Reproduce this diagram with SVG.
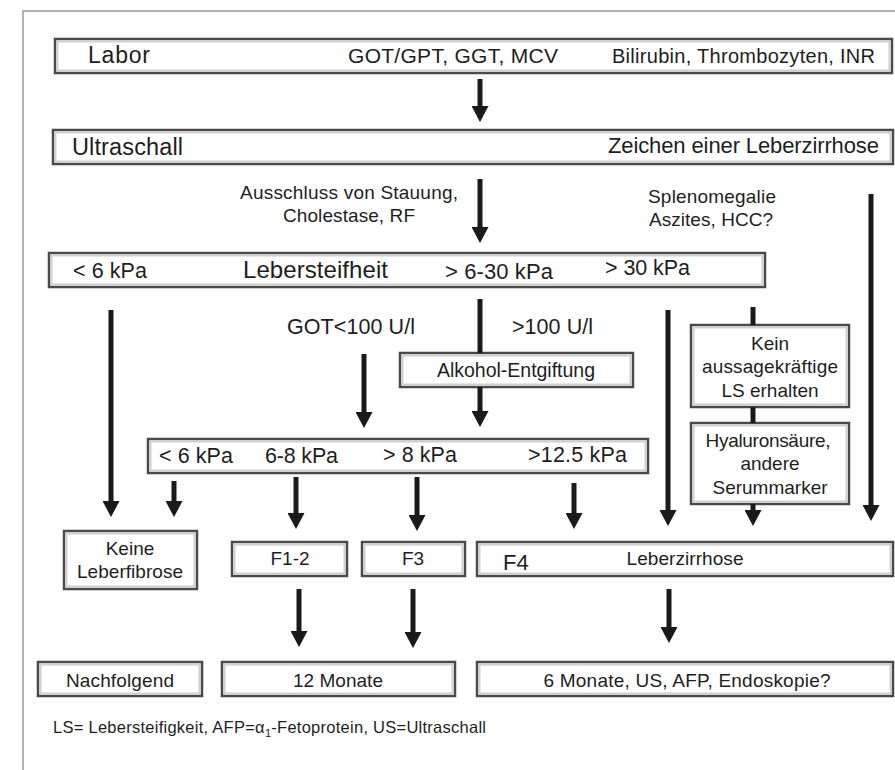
<svg xmlns="http://www.w3.org/2000/svg" width="895" height="770" viewBox="0 0 895 770">
<style>
.bx{fill:#fff;stroke:#4a4a4a;stroke-width:2.5}
.bi{fill:none;stroke:#cfcfcf;stroke-width:2}
text{font-family:"Liberation Sans",Arial,sans-serif;fill:#1e1e1e;font-size:19px}
.c{text-anchor:middle}
.ln{stroke:#1a1a1a;stroke-width:5;fill:none}
.ar{stroke:#1a1a1a;stroke-width:5;fill:none;marker-end:url(#ah)}
</style>
<defs>
<marker id="ah" markerUnits="userSpaceOnUse" markerWidth="17" markerHeight="17" refX="6" refY="8.5" orient="auto">
<path d="M0,0 L16,8.5 L0,17 z" fill="#1a1a1a"/>
</marker>
</defs>
<rect width="895" height="770" fill="#fff"/>
<path d="M23,770 V11 H895" fill="none" stroke="#9a9a9a" stroke-width="1.5"/>

<g id="labor">
<rect class="bx" x="55" y="39" width="837" height="34"/><rect class="bi" x="57.5" y="41.5" width="832" height="29"/>
<text x="88" y="63" style="font-size:23px" textLength="62">Labor</text>
<text x="348" y="63" style="font-size:21px" textLength="210">GOT/GPT, GGT, MCV</text>
<text x="612" y="63" style="font-size:20px" textLength="263">Bilirubin, Thrombozyten, INR</text>
</g>
<g id="ultraschall">
<rect class="bx" x="53" y="130" width="840" height="34"/><rect class="bi" x="55.5" y="132.5" width="835" height="29"/>
<text x="72" y="155" style="font-size:23.5px" textLength="111">Ultraschall</text>
<text x="608" y="153" style="font-size:22px" textLength="271">Zeichen einer Leberzirrhose</text>
</g>
<g id="label-ausschluss">
<text class="c" x="349" y="199" textLength="218">Ausschluss von Stauung,</text>
<text class="c" x="349" y="222" textLength="132">Cholestase, RF</text>
</g>
<g id="label-splenomegalie">
<text class="c" x="712" y="203" textLength="128">Splenomegalie</text>
<text class="c" x="711" y="226" textLength="124">Aszites, HCC?</text>
</g>
<g id="lebersteifheit">
<rect class="bx" x="49" y="253" width="716" height="34"/><rect class="bi" x="51.5" y="255.5" width="711" height="29"/>
<text x="73" y="278" style="font-size:21.5px" textLength="74">&lt; 6 kPa</text>
<text x="243" y="278" style="font-size:24px" textLength="145">Lebersteifheit</text>
<text x="445" y="279" style="font-size:22px" textLength="108">&gt; 6-30 kPa</text>
<text x="605" y="275" style="font-size:21.5px" textLength="85">&gt; 30 kPa</text>
</g>
<g id="label-got">
<text x="287" y="334" style="font-size:21.5px" textLength="128">GOT&lt;100 U/l</text>
<text x="512" y="334" style="font-size:21.5px" textLength="81">&gt;100 U/l</text>
</g>
<g id="alkohol">
<rect class="bx" x="400" y="353" width="233" height="34"/><rect class="bi" x="402.5" y="355.5" width="228" height="29"/>
<text x="437" y="377" style="font-size:19.5px" textLength="158">Alkohol-Entgiftung</text>
</g>
<g id="kpa2">
<rect class="bx" x="148" y="439" width="500" height="34"/><rect class="bi" x="150.5" y="441.5" width="495" height="29"/>
<text x="159" y="463" style="font-size:21.5px" textLength="74">&lt; 6 kPa</text>
<text x="265" y="463" style="font-size:21.5px" textLength="73">6-8 kPa</text>
<text x="383" y="462" style="font-size:21.5px" textLength="74">&gt; 8 kPa</text>
<text x="528" y="462" style="font-size:21.5px" textLength="99">&gt;12.5 kPa</text>
</g>
<g id="kein-ls">
<rect class="bx" x="691" y="325" width="158" height="82"/><rect class="bi" x="693.5" y="327.5" width="153" height="77"/>
<text class="c" x="770" y="350">Kein</text>
<text class="c" x="770" y="373" textLength="136">aussagekräftige</text>
<text class="c" x="770" y="397">LS erhalten</text>
</g>
<g id="hyaluron">
<rect class="bx" x="691" y="423" width="158" height="81"/><rect class="bi" x="693.5" y="425.5" width="153" height="76"/>
<text class="c" x="768" y="447" textLength="125">Hyaluronsäure,</text>
<text class="c" x="770" y="470">andere</text>
<text class="c" x="770" y="494">Serummarker</text>
</g>
<g id="keine-fibrose">
<rect class="bx" x="64" y="531" width="133" height="58"/><rect class="bi" x="66.5" y="533.5" width="128" height="53"/>
<text class="c" x="130" y="555">Keine</text>
<text class="c" x="130" y="578" textLength="106">Leberfibrose</text>
</g>
<g id="f12">
<rect class="bx" x="232" y="542" width="115" height="34"/><rect class="bi" x="234.5" y="544.5" width="110" height="29"/>
<text class="c" x="290" y="565">F1-2</text>
</g>
<g id="f3">
<rect class="bx" x="362" y="542" width="103" height="34"/><rect class="bi" x="364.5" y="544.5" width="98" height="29"/>
<text class="c" x="413" y="565">F3</text>
</g>
<g id="f4">
<rect class="bx" x="477" y="542" width="416" height="34"/><rect class="bi" x="479.5" y="544.5" width="411" height="29"/>
<text x="503" y="570" style="font-size:22px">F4</text>
<text class="c" x="685" y="565" textLength="117">Leberzirrhose</text>
</g>
<g id="nachfolgend">
<rect class="bx" x="38" y="662" width="164" height="34"/><rect class="bi" x="40.5" y="664.5" width="159" height="29"/>
<text class="c" x="120" y="687" textLength="108">Nachfolgend</text>
</g>
<g id="monate12">
<rect class="bx" x="222" y="662" width="233" height="34"/><rect class="bi" x="224.5" y="664.5" width="228" height="29"/>
<text class="c" x="338" y="687" textLength="90">12 Monate</text>
</g>
<g id="monate6">
<rect class="bx" x="477" y="662" width="416" height="34"/><rect class="bi" x="479.5" y="664.5" width="411" height="29"/>
<text class="c" x="687" y="687" textLength="287">6 Monate, US, AFP, Endoskopie?</text>
</g>
<g id="footnote">
<text x="53" y="733" style="font-size:16.5px" textLength="433">LS= Lebersteifigkeit, AFP=α<tspan style="font-size:11px" dy="4">1</tspan><tspan dy="-4">-Fetoprotein, US=Ultraschall</tspan></text>
</g>

<g id="connectors">
<line class="ar" x1="480" y1="79" x2="480" y2="112"/>
<line class="ar" x1="480" y1="179" x2="480" y2="233"/>
<line class="ar" x1="871" y1="194" x2="871" y2="511"/>
<line class="ar" x1="111" y1="310" x2="111" y2="507"/>
<line class="ln" x1="480" y1="299" x2="480" y2="353"/>
<line class="ar" x1="364" y1="354" x2="364" y2="418"/>
<line class="ar" x1="480" y1="387" x2="480" y2="417"/>
<line class="ar" x1="174" y1="481" x2="174" y2="507"/>
<line class="ar" x1="296" y1="477" x2="296" y2="519"/>
<line class="ar" x1="417" y1="477" x2="417" y2="521"/>
<line class="ar" x1="574" y1="483" x2="574" y2="519"/>
<line class="ar" x1="668" y1="310" x2="668" y2="516"/>
<line class="ln" x1="753" y1="307" x2="753" y2="325"/>
<line class="ln" x1="753" y1="407" x2="753" y2="423"/>
<line class="ar" x1="753" y1="504" x2="753" y2="516"/>
<line class="ar" x1="299" y1="589" x2="299" y2="637"/>
<line class="ar" x1="413" y1="589" x2="413" y2="638"/>
<line class="ar" x1="669" y1="589" x2="669" y2="633"/>
</g>
</svg>
